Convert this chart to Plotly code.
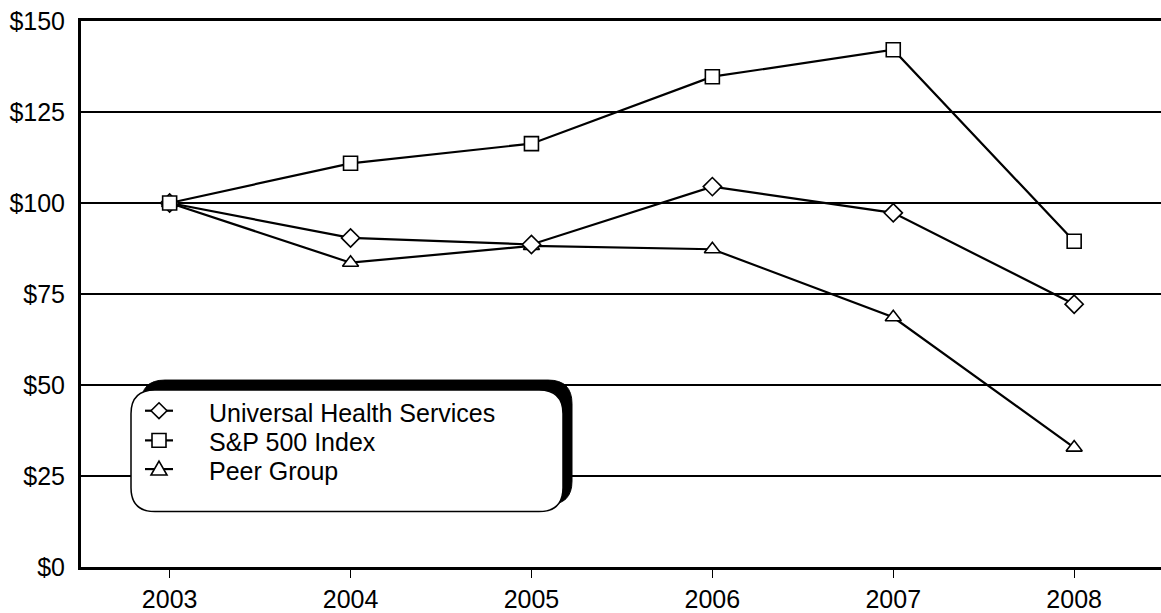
import plotly.graph_objects as go

years = [2003, 2004, 2005, 2006, 2007, 2008]
uhs = [100, 90.4, 88.6, 104.5, 97.3, 72.2]
sp500 = [100, 110.9, 116.3, 134.7, 142.1, 89.5]
peer = [100, 83.6, 88.2, 87.3, 68.6, 32.8]

series_names = ["Universal Health Services", "S&P 500 Index", "Peer Group"]
series_symbols = ["diamond", "square", "triangle-up"]
y_ticks = [0, 25, 50, 75, 100, 125, 150]
y_tick_text = ["$0", "$25", "$50", "$75", "$100", "$125", "$150"]

W, H = 1161, 613
ML, MR, MT, MB = 81, 0, 21, 40
PW, PH = W - ML - MR, H - MT - MB

FONT = "Liberation Sans, Arial, Helvetica, sans-serif"

LINE = dict(color="black", width=2.2)

def marker(symbol):
    return dict(symbol=symbol, size=14, color="white", line=dict(color="black", width=1.6))

fig = go.Figure()

for name, y, sym in [(series_names[2], peer, series_symbols[2]),
                     (series_names[0], uhs, series_symbols[0]),
                     (series_names[1], sp500, series_symbols[1])]:
    fig.add_trace(go.Scatter(x=years, y=y, name=name, mode="lines+markers",
                             line=LINE, marker=marker(sym), cliponaxis=False,
                             showlegend=False))


def px2paper(px, py):
    return (px - ML) / PW, (H - MB - py) / PH


def poly(points):
    pts = [px2paper(x, y) for x, y in points]
    return "M" + " L".join(f"{a},{b}" for a, b in pts) + " Z"


def rounded(x0, y0, x1, y1, r):
    rx, ry = r / PW, r / PH
    a0, b1 = px2paper(x0, y0)
    a1, b0 = px2paper(x1, y1)
    return (f"M{a0+rx},{b1} L{a1-rx},{b1} Q{a1},{b1} {a1},{b1-ry} "
            f"L{a1},{b0+ry} Q{a1},{b0} {a1-rx},{b0} L{a0+rx},{b0} "
            f"Q{a0},{b0} {a0},{b0+ry} L{a0},{b1-ry} Q{a0},{b1} {a0+rx},{b1} Z")

shapes = [
    dict(type="path", xref="paper", yref="paper", path=rounded(141, 384, 572, 510, 24),
         fillcolor="black", line=dict(color="black", width=1), layer="above"),
    dict(type="path", xref="paper", yref="paper", path=rounded(131, 394, 563, 517, 24),
         fillcolor="white", line=dict(color="black", width=1.5), layer="above"),
]

# manual legend keys (shapes) and labels (annotations)
row_y = [415, 445, 474]
KX0, KXC, KX1 = 145, 159, 173
annotations = []
for name, sym, ry in zip(series_names, series_symbols, row_y):
    a0, b = px2paper(KX0, ry)
    a1, _ = px2paper(KX1, ry)
    shapes.append(dict(type="line", xref="paper", yref="paper", x0=a0, x1=a1, y0=b, y1=b,
                       line=LINE, layer="above"))
    if sym == "diamond":
        pts = [(KXC, ry - 8), (KXC + 8, ry), (KXC, ry + 8), (KXC - 8, ry)]
    elif sym == "square":
        pts = [(KXC - 7, ry - 7), (KXC + 7, ry - 7), (KXC + 7, ry + 7), (KXC - 7, ry + 7)]
    else:
        pts = [(KXC, ry - 8), (KXC + 8, ry + 6), (KXC - 8, ry + 6)]
    shapes.append(dict(type="path", xref="paper", yref="paper", path=poly(pts),
                       fillcolor="white", line=dict(color="black", width=1.6), layer="above"))
    ax, ay = px2paper(207, ry + 2)
    annotations.append(dict(x=ax, y=ay, xref="paper", yref="paper", text=name,
                            showarrow=False, xanchor="left", yanchor="middle",
                            font=dict(size=25, family=FONT, color="black")))

fig.update_layout(
    width=W, height=H,
    margin=dict(l=ML, r=MR, t=MT, b=MB),
    paper_bgcolor="white", plot_bgcolor="white",
    font=dict(family=FONT, color="black", size=25),
    shapes=shapes,
    annotations=annotations,
    showlegend=False,
    xaxis=dict(range=[2002.51, 2008.48], tickvals=years, ticktext=[str(y) for y in years],
               showgrid=False, zeroline=False, showline=True, linecolor="black",
               linewidth=2.5, mirror=True, ticks="outside", ticklen=8, tickwidth=1,
               tickcolor="black", tickfont=dict(size=25)),
    yaxis=dict(range=[0, 150], tickvals=y_ticks, ticktext=y_tick_text,
               showgrid=True, gridcolor="black", gridwidth=1.5, zeroline=False,
               showline=True, linecolor="black", linewidth=3, ticks="",
               ticklabelstandoff=8, tickfont=dict(size=25)),
)

fig.write_html("out.html", config={"displayModeBar": False},
               post_script="document.body.style.margin='0';document.body.style.overflow='hidden';")
